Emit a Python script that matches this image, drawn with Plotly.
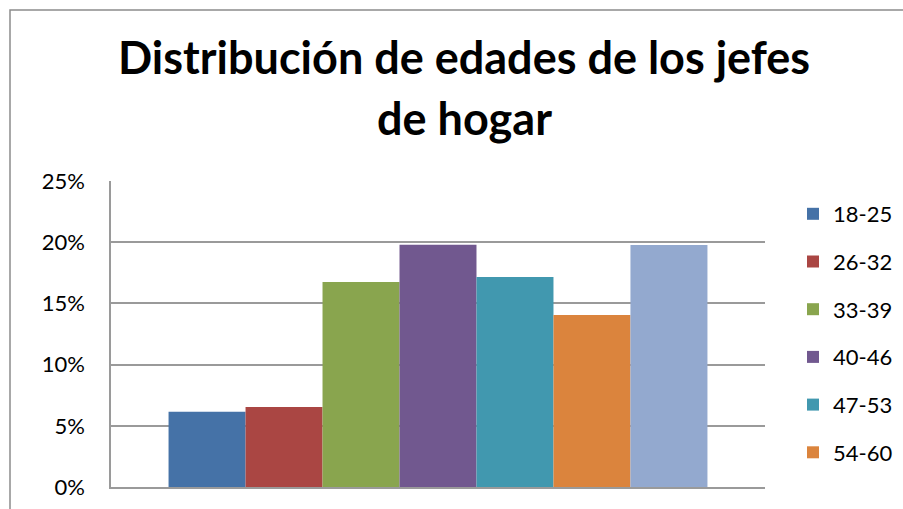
import plotly.graph_objects as go

categories = ["18-25", "26-32", "33-39", "40-46", "47-53", "54-60", "61-67"]
values = [0.0615, 0.0654, 0.1675, 0.1980, 0.1716, 0.1405, 0.1977]
colors = ["#4572A7", "#AA4643", "#89A54E", "#71588F", "#4198AF", "#DB843D", "#93A9CF"]
show_in_legend = [True, True, True, True, True, True, False]
title_lines = ["Distribución de edades de los jefes", "de hogar"]
y_ticks = [0, 0.05, 0.10, 0.15, 0.20, 0.25]
y_tick_text = ["0%", "5%", "10%", "15%", "20%", "25%"]

W, H = 903, 509
L, R, T, B = 111, 765, 181, 487
FONT = "Lato"

fig = go.Figure()
for name, v, c, s in zip(categories, values, colors, show_in_legend):
    fig.add_trace(go.Bar(
        x=[""], y=[v], name=name, marker=dict(color=c, line=dict(width=0)),
        showlegend=s, legendgroup=name,
    ))

def px_x(p):
    return (p - L) / (R - L)

def px_y(p):
    return (B - p) / (B - T)

fig.update_layout(
    width=W, height=H,
    margin=dict(l=L, r=W - R, t=T, b=H - B, pad=0, autoexpand=False),
    paper_bgcolor="white", plot_bgcolor="white",
    barmode="group", bargap=0.176, bargroupgap=0,
    font=dict(family=FONT, color="#000000"),
    xaxis=dict(showticklabels=False, showgrid=False, zeroline=False,
               showline=True, linecolor="#9a9a9a", linewidth=1.5, ticks=""),
    yaxis=dict(range=[0, 0.25], tickvals=y_ticks, ticktext=y_tick_text,
               showgrid=True, gridcolor="#9a9a9a", gridwidth=1.5, zeroline=False,
               showline=True, linecolor="#9a9a9a", linewidth=1.5,
               ticks="", ticklabelstandoff=20,
               tickfont=dict(family=FONT, size=22, color="#000000")),
    legend=dict(x=px_x(793), y=px_y(193), xanchor="left", yanchor="top",
                font=dict(family=FONT, size=22, color="#000000"),
                traceorder="grouped", tracegroupgap=16.1,
                bgcolor="rgba(0,0,0,0)", itemwidth=30),
    showlegend=True,
)

fig.add_annotation(text="<b>%s</b>" % title_lines[0], xref="paper", yref="paper",
                   x=px_x(464), y=px_y(57), xanchor="center", yanchor="middle",
                   showarrow=False, font=dict(family=FONT, size=45, color="#000000"))
fig.add_annotation(text="<b>%s</b>" % title_lines[1], xref="paper", yref="paper",
                   x=px_x(464), y=px_y(118), xanchor="center", yanchor="middle",
                   showarrow=False, font=dict(family=FONT, size=45, color="#000000"))

fig.add_shape(type="rect", xref="paper", yref="paper",
              x0=px_x(10), x1=px_x(1000), y0=px_y(600), y1=px_y(10),
              line=dict(color="#8c8c8c", width=1.5), fillcolor="rgba(0,0,0,0)",
              layer="below")

fig.write_html("out.html", config={"displayModeBar": False},
               post_script="document.body.style.margin='0';document.body.style.overflow='hidden';")
